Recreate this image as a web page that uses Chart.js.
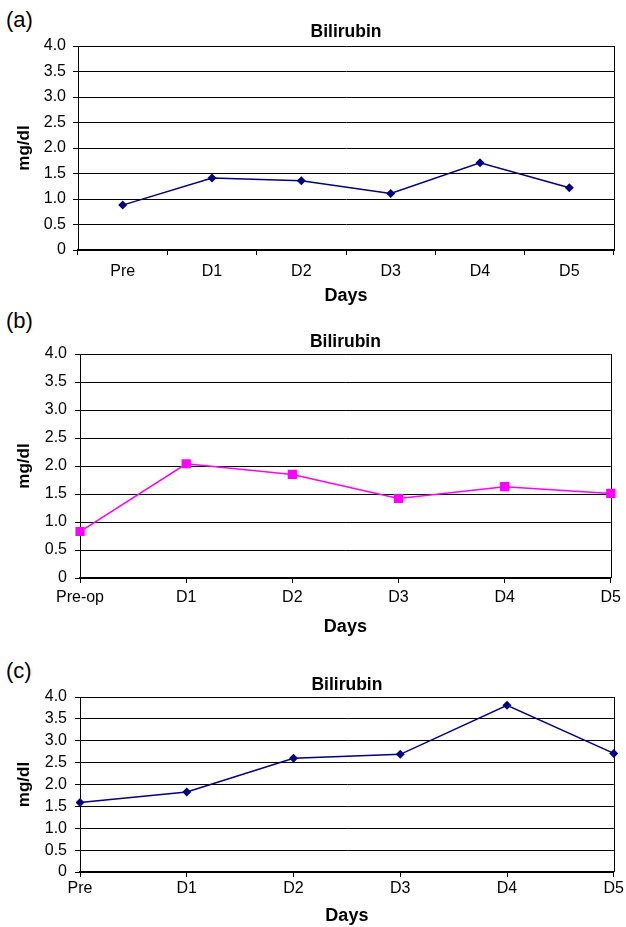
<!DOCTYPE html>
<html>
<head>
<meta charset="utf-8">
<script src="https://cdn.jsdelivr.net/npm/chart.js@4.4.1/dist/chart.umd.min.js"></script>
<style>
    body { margin: 0; background: #fff; }
    #page { position: relative; width: 626px; height: 927px; font-family: "Liberation Sans", Arial, sans-serif; }
    .box { position: absolute; left: 0; width: 626px; }
    .tag { position: absolute; left: 6px; font-size: 22px; line-height: 1; color: #000; }
</style>
</head>
<body>
<div id="page">
    <div class="tag" style="top: 9px;">(a)</div>
    <div class="tag" style="top: 310px;">(b)</div>
    <div class="tag" style="top: 660px;">(c)</div>
    <div class="box" style="top: 0px; height: 310px;"><canvas id="chart-a" width="626" height="310"></canvas></div>
    <div class="box" style="top: 310px; height: 330px;"><canvas id="chart-b" width="626" height="330"></canvas></div>
    <div class="box" style="top: 640px; height: 287px;"><canvas id="chart-c" width="626" height="287"></canvas></div>
</div>
<script>
const daysA = ['Pre', 'D1', 'D2', 'D3', 'D4', 'D5'];
const bilirubinA = [0.88, 1.41, 1.36, 1.11, 1.71, 1.22];

const daysB = ['Pre-op', 'D1', 'D2', 'D3', 'D4', 'D5'];
const bilirubinB = [0.83, 2.04, 1.85, 1.42, 1.63, 1.51];

const daysC = ['Pre', 'D1', 'D2', 'D3', 'D4', 'D5'];
const bilirubinC = [1.59, 1.83, 2.60, 2.69, 3.81, 2.71];

const yMin = 0;
const yMax = 4;
const yStep = 0.5;

const FONT = '"Liberation Sans", Arial, sans-serif';

// right edge of the plot box
const frameRight = {
    id: 'frameRight',
    beforeDatasetsDraw(chart) {
        const {ctx, chartArea} = chart;
        const x = Math.round(chartArea.right) + 0.5;
        ctx.save();
        ctx.strokeStyle = '#000';
        ctx.lineWidth = 1;
        ctx.beginPath();
        ctx.moveTo(x, chartArea.top);
        ctx.lineTo(x, chartArea.bottom);
        ctx.stroke();
        ctx.restore();
    }
};

function drawPanel(canvasId, labels, values, look) {
    /*
     * look holds the colours and the pixel layout of one panel
     */
    new Chart(document.getElementById(canvasId), {
        type: 'line',
        data: {
            labels: labels,
            datasets: [{
                label: 'Bilirubin',
                data: values,
                borderColor: look.color,
                backgroundColor: look.color,
                borderWidth: 1.5,
                pointStyle: look.pointStyle,
                pointRadius: look.pointRadius,
                pointBorderWidth: 0,
                tension: 0,
                fill: false
            }]
        },
        plugins: [frameRight],
        options: {
            responsive: false,
            animation: false,
            layout: {
                padding: {top: 0, left: 0, right: 12, bottom: 0}
            },
            plugins: {
                legend: {display: false},
                tooltip: {enabled: false},
                title: {
                    display: true,
                    text: 'Bilirubin',
                    fullSize: false,
                    color: '#000',
                    font: {family: FONT, size: 17.5, weight: 'bold'},
                    padding: {top: look.titleTop, bottom: look.titleBottom}
                }
            },
            scales: {
                x: {
                    offset: look.offset,
                    afterFit: scale => { scale.height = look.xHeight; },
                    border: {display: true, color: '#000', width: 2},
                    grid: {
                        display: true,
                        offset: look.offset,
                        drawOnChartArea: false,
                        color: '#000',
                        tickLength: 5,
                        tickColor: '#000'
                    },
                    ticks: {
                        color: '#000',
                        padding: look.xPad,
                        maxRotation: 0,
                        autoSkip: false,
                        font: {family: FONT, size: 16}
                    },
                    title: {
                        display: true,
                        text: 'Days',
                        color: '#000',
                        font: {family: FONT, size: 18, weight: 'bold'},
                        padding: {top: 0, bottom: look.daysBottom}
                    }
                },
                y: {
                    min: yMin,
                    max: yMax,
                    afterFit: scale => { scale.width = look.yWidth; },
                    border: {display: true, color: '#000', width: 1},
                    grid: {
                        color: '#000',
                        lineWidth: 1,
                        tickLength: 5,
                        tickColor: '#000'
                    },
                    ticks: {
                        stepSize: yStep,
                        autoSkip: false,
                        color: '#000',
                        padding: look.yPad,
                        font: {family: FONT, size: 16},
                        callback: value => value === 0 ? '0' : value.toFixed(1)
                    },
                    title: {
                        display: true,
                        text: 'mg/dl',
                        color: '#000',
                        font: {family: FONT, size: 17, weight: 'bold'},
                        padding: {top: 14, bottom: 0}
                    }
                }
            }
        }
    });
}

drawPanel('chart-a', daysA, bilirubinA, {
    color: '#000080', pointStyle: 'rectRot', pointRadius: 4.5, offset: true,
    titleTop: 21.5, titleBottom: 3.5, xHeight: 60, xPad: 6.5, daysBottom: 3.2,
    yWidth: 78, yPad: 7
});

drawPanel('chart-b', daysB, bilirubinB, {
    color: '#FF00FF', pointStyle: 'rect', pointRadius: 6.5, offset: false,
    titleTop: 21.5, titleBottom: 1.5, xHeight: 62, xPad: 5, daysBottom: 2.2,
    yWidth: 80, yPad: 8
});

drawPanel('chart-c', daysC, bilirubinC, {
    color: '#000080', pointStyle: 'rectRot', pointRadius: 4.5, offset: false,
    titleTop: 34.5, titleBottom: 1.5, xHeight: 55, xPad: 2, daysBottom: 0,
    yWidth: 80, yPad: 8
});
</script>
</body>
</html>
